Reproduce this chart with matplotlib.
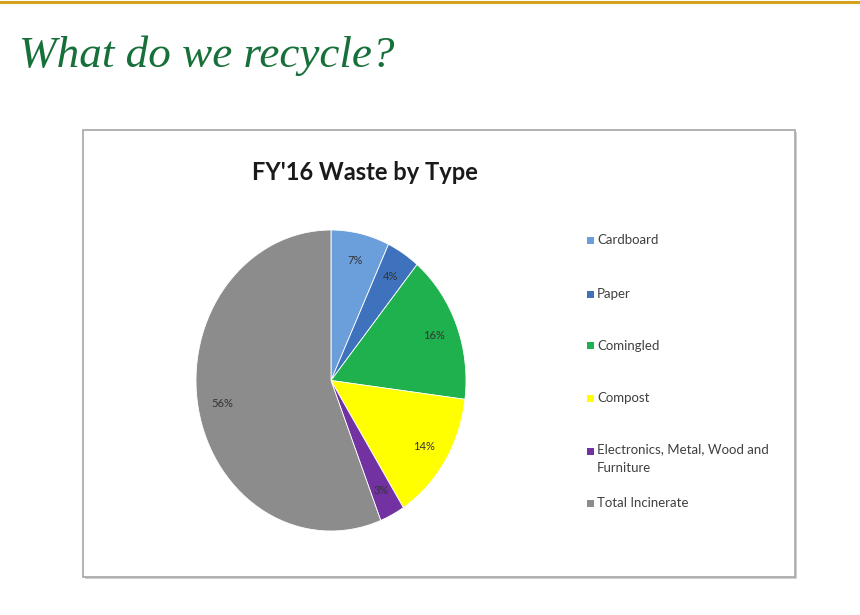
import textwrap
import matplotlib
matplotlib.use("Agg")
import matplotlib.pyplot as plt
from matplotlib.patches import Rectangle
from matplotlib.lines import Line2D

categories = ["Cardboard", "Paper", "Comingled", "Compost",
              "Electronics, Metal, Wood and Furniture", "Total Incinerate"]
values = [7, 4, 16, 14, 3, 56]
colors = ["#6b9fdc", "#3f72bd", "#1fb14d", "#ffff00", "#7232a2", "#8c8c8c"]
chart_title = "FY'16 Waste by Type"
slide_title = "What do we recycle?"

W, H = 860, 615
fig = plt.figure(figsize=(W / 100, H / 100), dpi=100)
fig.patch.set_facecolor("white")

def fx(px):
    return px / W

def fy(py):
    return 1 - py / H

# gold line at the top
fig.add_artist(Line2D([0, 1], [fy(2), fy(2)], color="#d4a21c", lw=2.2,
                      transform=fig.transFigure))

# slide title
fig.text(fx(19), fy(67), slide_title, family="Liberation Serif", style="italic",
         fontsize=32.5, color="#17703a", ha="left", va="baseline")

# chart frame with subtle shadow
fig.add_artist(Rectangle((fx(85), fy(579)), fx(795 - 83), 447 / H,
                         transform=fig.transFigure, facecolor="#d0d0d0",
                         edgecolor="none", zorder=0))
fig.add_artist(Rectangle((fx(83), fy(577)), fx(795 - 83), 447 / H,
                         transform=fig.transFigure, facecolor="white",
                         edgecolor="#a6a6a6", lw=1.2, zorder=0.5))

# chart title
fig.text(fx(365), fy(172), chart_title, family="Lato", weight="bold",
         fontsize=17, color="#1a1a1a", ha="center", va="center", zorder=3)

# pie (slightly elliptical as in the reference)
left, right, top, bottom = 196, 466, 230, 531
ax = fig.add_axes([fx(left), fy(bottom), fx(right - left), (bottom - top) / H])
ax.set_zorder(2)
ax.patch.set_visible(False)
wedges, texts, autotexts = ax.pie(values, colors=colors, startangle=90,
                                  counterclock=False, autopct="%d%%",
                                  pctdistance=0.82,
                                  wedgeprops=dict(edgecolor="white", linewidth=0.6),
                                  textprops=dict(fontsize=8, color="#333333",
                                                 family="Lato"))
ax.set_aspect("auto")
ax.set_xlim(-1, 1)
ax.set_ylim(-1, 1)
ax.axis("off")

# legend
ys = [240, 294, 346, 398, 451, 503]
for cat, col, y in zip(categories, colors, ys):
    fig.add_artist(Rectangle((fx(587), fy(y + 3.5)), fx(7), 7 / H,
                             transform=fig.transFigure, facecolor=col,
                             edgecolor="none", zorder=3))
    label = textwrap.fill(cat, 28)
    if "\n" in label:
        fig.text(fx(597), fy(443.5), label, family="Lato", fontsize=9.5,
                 color="#404040", ha="left", va="top", linespacing=1.7,
                 zorder=3)
    else:
        fig.text(fx(597), fy(y), label, family="Lato", fontsize=9.5,
                 color="#404040", ha="left", va="center", zorder=3)

fig.savefig("out.png", dpi=100, facecolor="white")
